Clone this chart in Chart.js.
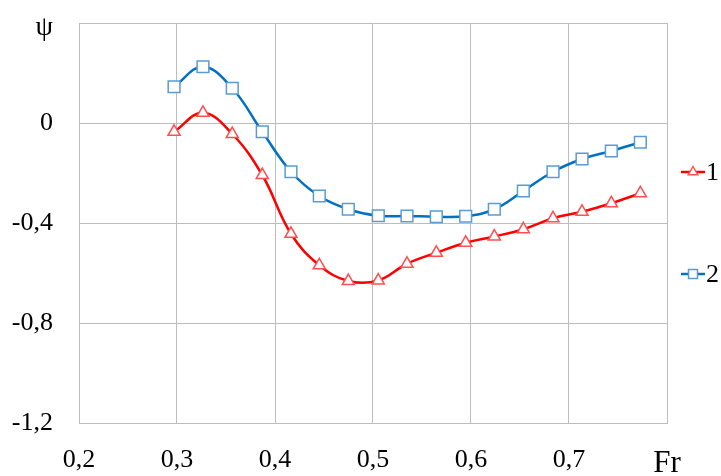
<!DOCTYPE html>
<html>
<head>
<meta charset="utf-8">
<script src="https://cdn.jsdelivr.net/npm/chart.js@4.4.1/dist/chart.umd.min.js"></script>
<style>
html,body{margin:0;padding:0;background:#fff;}
#wrap{position:relative;width:721px;height:476px;}
</style>
</head>
<body>
<div id="wrap"><canvas id="c" width="721" height="476"></canvas></div>
<script>
// Froude numbers (x) shared by both series
const frValues = [0.297, 0.3265, 0.3564, 0.387, 0.4163, 0.4452, 0.4748, 0.5054, 0.5347, 0.5646, 0.5946, 0.6238, 0.6534, 0.6837, 0.7133, 0.7432, 0.7728];
// Series 1 (red, triangles)
const psi1 = [-0.035, 0.041, -0.044, -0.208, -0.443, -0.569, -0.632, -0.630, -0.563, -0.519, -0.479, -0.454, -0.425, -0.381, -0.355, -0.321, -0.281];
// Series 2 (blue, squares)
const psi2 = [0.145, 0.225, 0.139, -0.035, -0.195, -0.292, -0.345, -0.371, -0.372, -0.375, -0.373, -0.345, -0.272, -0.195, -0.144, -0.112, -0.077];
const seriesNames = ['1', '2'];
const xTicks = [0.2, 0.3, 0.4, 0.5, 0.6, 0.7, 0.8];
const yTicks = [-1.2, -0.8, -0.4, 0, 0.4];
const xTitle = 'Fr';
const yTitle = 'ψ';

const FONT = "'Liberation Serif', serif";
const RED = '#FF0000', RED_M = '#FF5050', BLUE = '#0070C0', BLUE_M = '#5B9BD5';

function pts(ys){ return frValues.map((x,i)=>({x:x, y:ys[i]})); }
function fmt(v){ return Math.abs(v) < 1e-9 ? '0' : v.toFixed(1).replace('.', ','); }
function isVal(c, v){ return !!(c && c.tick && Math.abs(c.tick.value - v) < 1e-9); }

const legendPlugin = {
  id: 'sideLegend',
  afterDraw(chart){
    const ctx = chart.ctx, a = chart.chartArea;
    const cy = (a.top + a.bottom) / 2;
    const items = [
      {y: cy - 51, color: RED, mcolor: RED_M, shape: 'tri', text: seriesNames[0]},
      {y: cy + 51, color: BLUE, mcolor: BLUE_M, shape: 'rect', text: seriesNames[1]}
    ];
    items.forEach(it => {
      const x0 = a.right + 14, x1 = a.right + 38, xm = (x0 + x1) / 2;
      ctx.save();
      ctx.strokeStyle = it.color; ctx.lineWidth = 2.5;
      ctx.beginPath(); ctx.moveTo(x0, it.y); ctx.lineTo(x1, it.y); ctx.stroke();
      ctx.fillStyle = '#fff'; ctx.strokeStyle = it.mcolor; ctx.lineWidth = 1.5;
      ctx.beginPath();
      if (it.shape === 'tri') {
        const r = 5.5;
        ctx.moveTo(xm, it.y - r); ctx.lineTo(xm + r*0.866, it.y + r/2); ctx.lineTo(xm - r*0.866, it.y + r/2); ctx.closePath();
      } else {
        ctx.rect(xm - 4.5, it.y - 4.5, 9, 9);
      }
      ctx.fill(); ctx.stroke();
      ctx.fillStyle = '#000'; ctx.font = '26px ' + FONT;
      ctx.textBaseline = 'middle'; ctx.textAlign = 'left';
      ctx.fillText(it.text, x1 + 1, it.y + 1);
      ctx.restore();
    });
  }
};

new Chart(document.getElementById('c'), {
  type: 'line',
  data: {
    datasets: [
      {label: seriesNames[0], data: pts(psi1), borderColor: RED, borderWidth: 2.5, tension: 0.4,
       pointStyle: 'triangle', pointRadius: 7, pointBorderColor: RED_M, pointBackgroundColor: '#fff', pointBorderWidth: 1.5},
      {label: seriesNames[1], data: pts(psi2), borderColor: BLUE, borderWidth: 2.5, tension: 0.4,
       pointStyle: 'rect', pointRadius: 8.3, pointBorderColor: BLUE_M, pointBackgroundColor: '#fff', pointBorderWidth: 1.5}
    ]
  },
  options: {
    responsive: false, animation: false, devicePixelRatio: 1,
    layout: {padding: {left: 0, right: 54, top: 23, bottom: 0}},
    plugins: {legend: {display: false}, tooltip: {enabled: false}},
    scales: {
      x: {
        type: 'linear', min: xTicks[0], max: xTicks[xTicks.length-1],
        afterBuildTicks: s => { s.ticks = xTicks.map(v => ({value: v})); },
        afterFit: s => { s.height = 53; s.paddingLeft = 0; s.paddingRight = 0; },
        grid: {color: '#BDBDBD', lineWidth: 1, drawTicks: false},
        border: {color: '#BDBDBD', width: 1},
        ticks: {
          padding: 22, color: '#000', maxRotation: 0, autoSkip: false,
          font: c => (isVal(c, 0.8) ? {family: FONT, size: 31} : {family: FONT, size: 26}),
          callback: v => (Math.abs(v - 0.8) < 1e-9 ? xTitle : fmt(v))
        }
      },
      y: {
        type: 'linear', min: yTicks[0], max: yTicks[yTicks.length-1],
        afterBuildTicks: s => { s.ticks = yTicks.map(v => ({value: v})); },
        afterFit: s => { s.width = 79; s.paddingTop = 0; s.paddingBottom = 0; },
        grid: {color: '#BDBDBD', lineWidth: 1, drawTicks: false},
        border: {color: '#BDBDBD', width: 1},
        ticks: {
          padding: 26, color: '#000', autoSkip: false,
          font: c => (isVal(c, 0.4) ? {family: FONT, size: 28, lineHeight: 0.3} : {family: FONT, size: 26}),
          callback: v => (Math.abs(v - 0.4) < 1e-9 ? ['', yTitle] : fmt(v))
        }
      }
    }
  },
  plugins: [legendPlugin]
});
</script>
</body>
</html>
